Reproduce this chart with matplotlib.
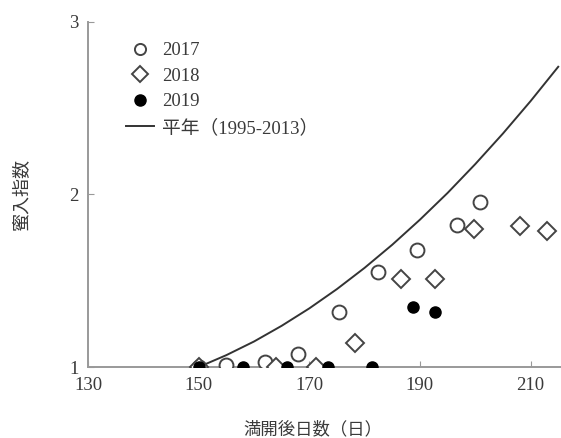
import matplotlib
matplotlib.use('Agg')
import matplotlib.pyplot as plt

plt.rcParams['font.family'] = ['Liberation Serif', 'Noto Sans CJK JP']

# 満開後日数 / 蜜入指数
days_2017 = [150, 155, 162, 168, 175.4, 182.5, 189.5, 196.7, 200.8]
idx_2017 = [1.0, 1.01, 1.03, 1.075, 1.32, 1.55, 1.68, 1.825, 1.955]

days_2018 = [150, 164, 171.2, 178.3, 186.5, 192.7, 199.7, 208, 213]
idx_2018 = [1.0, 1.0, 1.0, 1.137, 1.508, 1.51, 1.80, 1.82, 1.79]

days_2019 = [150, 158, 166, 173.4, 181.4, 188.7, 192.7]
idx_2019 = [1.0, 1.0, 1.0, 1.0, 1.0, 1.35, 1.317]

# 平年 (1995-2013) curve
days_avg = [150, 155, 160, 165, 170, 175, 180, 185, 190, 195, 200, 205, 210, 215]
idx_avg = [1.0, 1.069, 1.148, 1.239, 1.340, 1.452, 1.575, 1.709, 1.854,
           2.009, 2.176, 2.353, 2.541, 2.740]

xticks = [130, 150, 170, 190, 210]
yticks = [1, 2, 3]

fig = plt.figure(figsize=(5.61, 4.38), dpi=100)
ax = fig.add_axes([0.157, 0.162, 0.843, 0.788])

txt = '#3a3a3a'
ax.plot(days_avg, idx_avg, '-', color='#333333', lw=1.4, label='平年（1995-2013）', zorder=2)
ax.plot(days_2017, idx_2017, 'o', ms=10, mfc='white', mec='#444444', mew=1.4,
        ls='none', label='2017', zorder=3)
ax.plot(days_2018, idx_2018, 'D', ms=9, mfc='white', mec='#444444', mew=1.4,
        ls='none', label='2018', zorder=3)
ax.plot(days_2019, idx_2019, 'o', ms=8, mfc='black', mec='black',
        ls='none', label='2019', zorder=4)

ax.set_xlim(130, 215.5)
ax.set_ylim(1, 3)
ax.set_xticks(xticks)
ax.set_yticks(yticks)
ax.tick_params(direction='in', length=4, color='#999999', labelsize=13.5,
               labelcolor=txt, pad=7)

for side in ('top', 'right'):
    ax.spines[side].set_visible(False)
for side in ('left', 'bottom'):
    ax.spines[side].set_color('#999999')
    ax.spines[side].set_linewidth(1.4)

ax.set_xlabel('満開後日数（日）', fontsize=12.5, color=txt, labelpad=19,
              family=['Noto Sans CJK JP'])
ax.xaxis.label.set_x(0.475)
ax.set_ylabel('蜜入指数', fontsize=13, color=txt, labelpad=28,
              family=['Noto Sans CJK JP'])

handles, labels = ax.get_legend_handles_labels()
order = [1, 2, 3, 0]
leg = ax.legend([handles[i] for i in order], [labels[i] for i in order],
                loc='upper left', bbox_to_anchor=(0.045, 0.99), frameon=False,
                fontsize=13.5, handlelength=1.5, handletextpad=0.4,
                labelspacing=0.45, labelcolor=txt)
for h in leg.legend_handles:
    h.set_markersize(8)

fig.savefig('out.png', dpi=100)
